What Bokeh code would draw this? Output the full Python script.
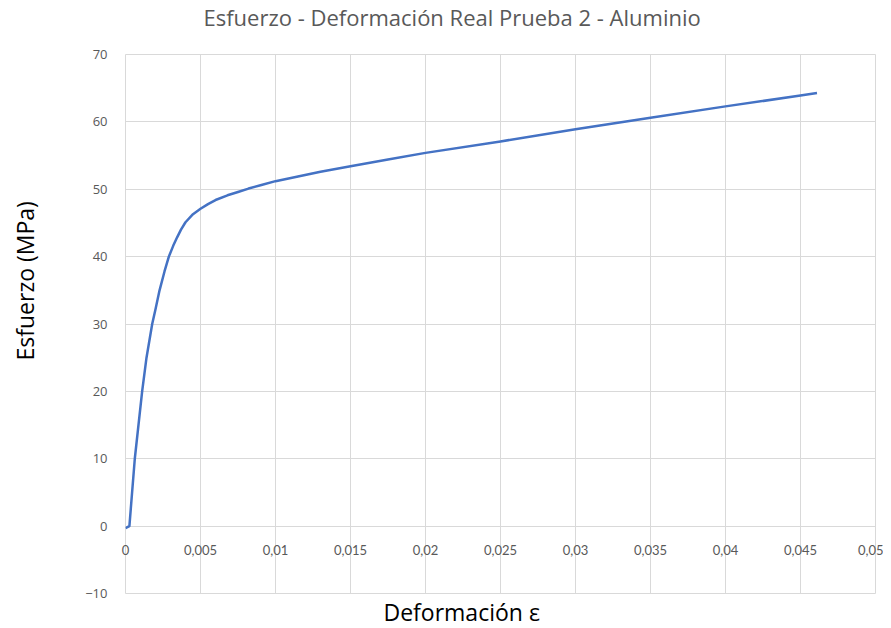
from bokeh.plotting import figure
from bokeh.models import Range1d, FixedTicker, CustomJSTickFormatter, Title
from bokeh.embed import file_html
from bokeh.resources import INLINE

title_text = "Esfuerzo - Deformación Real Prueba 2 - Aluminio"
x_label = "Deformación ε"
y_label = "Esfuerzo (MPa)"

strain = [0.0, 0.00026, 0.00062, 0.00111, 0.0014, 0.00178, 0.0020, 0.00227, 0.0026,
          0.00289, 0.00318, 0.00345, 0.0037, 0.0040, 0.0045, 0.0050, 0.0055, 0.0060,
          0.0068, 0.0075, 0.0082, 0.0090, 0.010, 0.0115, 0.013, 0.015, 0.0175,
          0.020, 0.025, 0.030, 0.035, 0.040, 0.045, 0.0461]
stress = [-0.3, 0.0, 10.0, 20.0, 25.0, 30.0, 32.2, 35.0, 37.8,
          40.0, 41.6, 42.9, 44.0, 45.1, 46.3, 47.1, 47.8, 48.4,
          49.1, 49.6, 50.1, 50.6, 51.2, 51.9, 52.6, 53.4, 54.4,
          55.4, 57.1, 58.9, 60.6, 62.3, 63.9, 64.3]

x_ticks = [0, 0.005, 0.01, 0.015, 0.02, 0.025, 0.03, 0.035, 0.04, 0.045, 0.05]
y_ticks = [-10, 0, 10, 20, 30, 40, 50, 60, 70]

W, H = 883, 628
p = figure(width=W, height=H, output_backend="svg", toolbar_location=None,
           x_range=Range1d(0, 0.05), y_range=Range1d(-10, 70),
           min_border_left=125, min_border_right=8, min_border_top=54, min_border_bottom=32)

p.line(strain, stress, line_color="#4472C4", line_width=2.5, line_join="round")

grid_col = "#d9d9d9"
p.outline_line_color = grid_col
p.xgrid.ticker = FixedTicker(ticks=x_ticks)
p.ygrid.ticker = FixedTicker(ticks=y_ticks)
p.xgrid.grid_line_color = grid_col
p.ygrid.grid_line_color = grid_col

fmt = CustomJSTickFormatter(code="return parseFloat(tick.toFixed(4)).toString().replace('.', ',');")

xa = p.xaxis[0]
xa.ticker = FixedTicker(ticks=x_ticks)
xa.formatter = fmt
xa.axis_line_color = None
xa.major_tick_line_color = None
xa.minor_tick_line_color = None
xa.major_label_text_color = "#595959"
xa.major_label_text_font = "Lato"
xa.major_label_text_font_size = "13px"
xa.major_label_standoff = -55

ya = p.yaxis[0]
ya.ticker = FixedTicker(ticks=y_ticks)
ya.axis_line_color = None
ya.major_tick_line_color = None
ya.minor_tick_line_color = None
ya.major_label_text_color = "#595959"
ya.major_label_text_font = "Open Sans"
ya.major_label_text_font_size = "13px"
ya.major_label_standoff = 12

# trailing empty line reserves space so the title sits near the top edge
p.title.text = title_text + "\n"
p.title.align = "left"
p.title.vertical_align = "top"
p.title.offset = 78
p.title.standoff = 0
p.title.text_line_height = 0.7
p.title.text_color = "#595959"
p.title.text_font = "Open Sans"
p.title.text_font_size = "22px"
p.title.text_font_style = "normal"

p.add_layout(Title(text=x_label, align="left", offset=258, standoff=1,
                   text_color="#000000", text_font="Open Sans", text_font_size="23px",
                   text_font_style="normal"), "below")
p.add_layout(Title(text=y_label + "\n", align="left", vertical_align="top", offset=233,
                   standoff=16, text_line_height=1.0,
                   text_color="#000000", text_font="Open Sans", text_font_size="23px",
                   text_font_style="normal"), "left")

open("out.html", "w").write(file_html(p, INLINE))
